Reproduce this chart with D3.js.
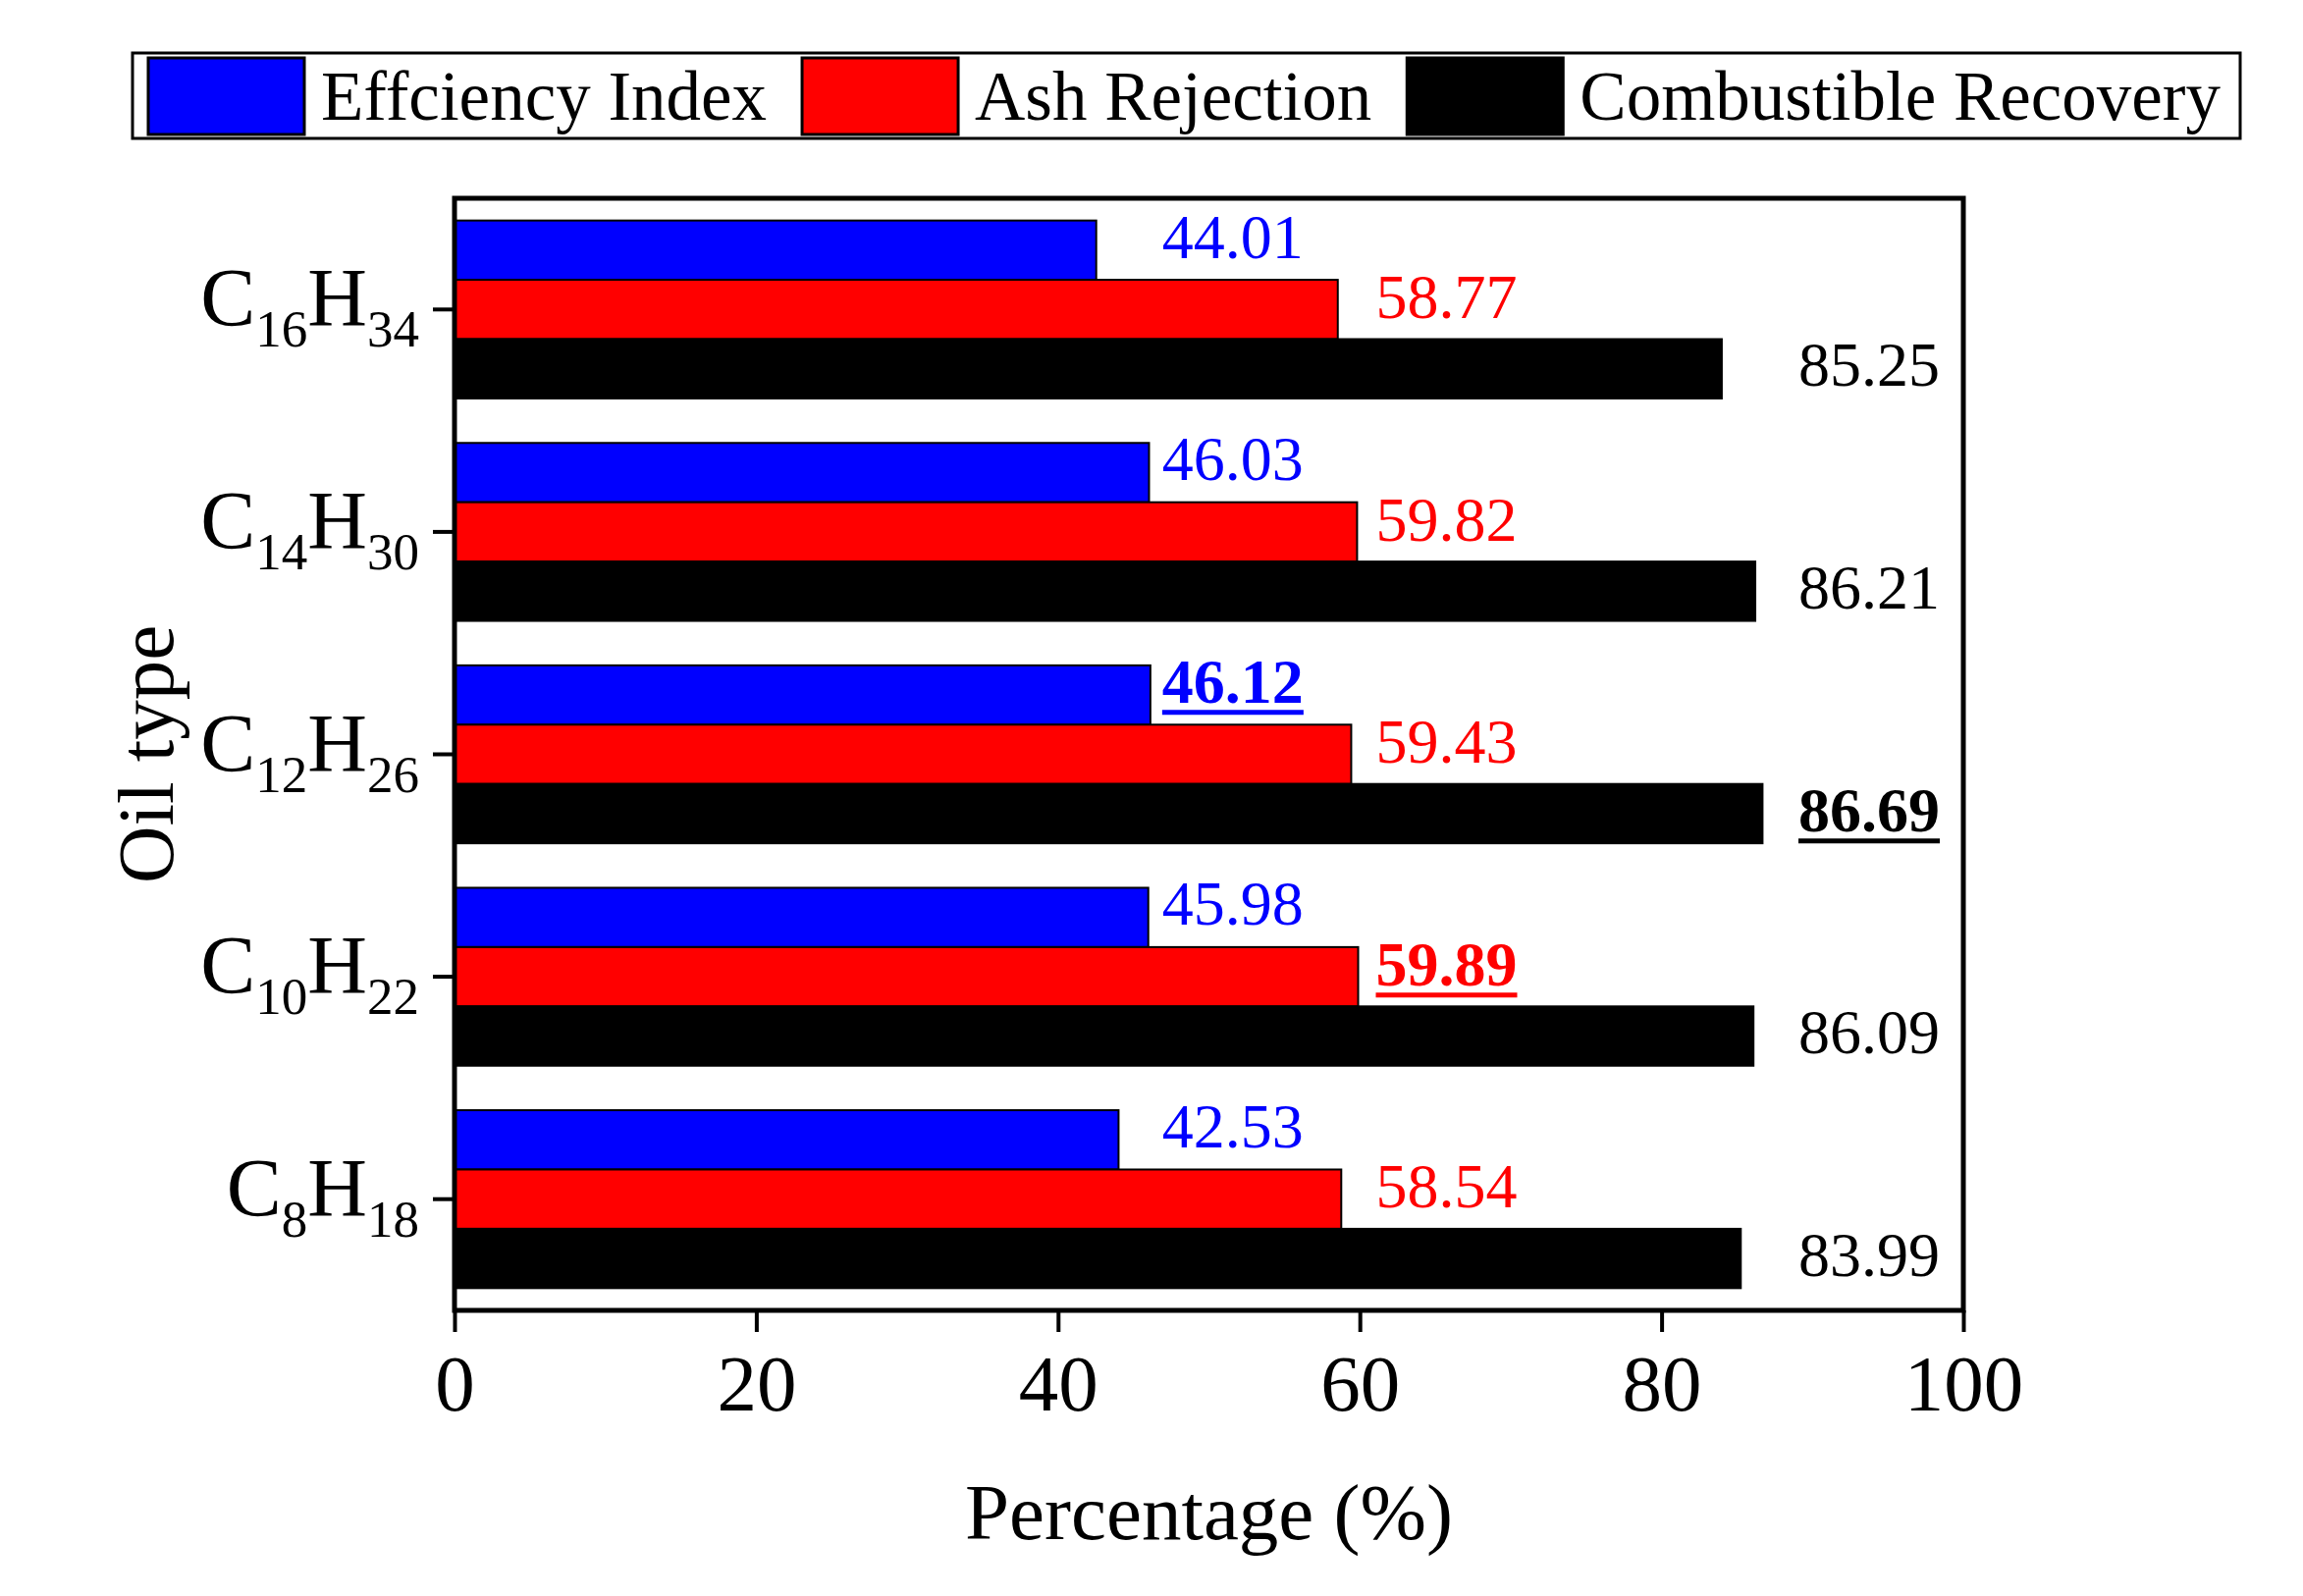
<!DOCTYPE html>
<html>
<head>
<meta charset="utf-8">
<title>Oil type - efficiency bars</title>
<script src="https://d3js.org/d3.v7.min.js"></script>
<style>
  body { margin: 0; background: #fff; }
  text { font-family: "Liberation Serif", "Times New Roman", serif; }
  .tick line { stroke: #000; stroke-width: 4px; }
</style>
</head>
<body>
<svg width="2346" height="1626"></svg>
<script>
// oil types, top to bottom
const carbon = ["16", "14", "12", "10", "8"];
const hydrogen = ["34", "30", "26", "22", "18"];

const seriesNames = ["Effciency Index", "Ash Rejection", "Combustible Recovery"];
const seriesColors = ["#0000ff", "#ff0000", "#000000"];

// bar lengths as drawn
const efficiencyBar = [42.53, 46.03, 46.12, 45.98, 44.01];
const ashBar = [58.54, 59.82, 59.43, 59.89, 58.77];
const recoveryBar = [83.99, 86.21, 86.69, 86.09, 85.25];

// numbers printed next to the bars (C16 / C8 are swapped in the source figure)
const efficiencyLabel = ["44.01", "46.03", "46.12", "45.98", "42.53"];
const ashLabel = ["58.77", "59.82", "59.43", "59.89", "58.54"];
const recoveryLabel = ["85.25", "86.21", "86.69", "86.09", "83.99"];

const xTicks = [0, 20, 40, 60, 80, 100];

const svg = d3.select("svg");
const plotL = 463, plotR = 2000, plotT = 202, plotB = 1335;

const x = d3.scaleLinear().domain([0, 100]).range([plotL, plotR]);
const y = d3.scaleBand().domain(d3.range(carbon.length))
  .range([plotT, plotB]).paddingInner(0.2).paddingOuter(0.1);
const sub = d3.scaleBand().domain(d3.range(seriesNames.length)).range([0, y.bandwidth()]);

const bars = [efficiencyBar, ashBar, recoveryBar];
const labels = [efficiencyLabel, ashLabel, recoveryLabel];

// bars
bars.forEach((vals, s) => {
  svg.append("g").selectAll("rect")
    .data(vals)
    .enter().append("rect")
    .attr("x", x(0))
    .attr("y", (d, i) => y(i) + sub(s))
    .attr("width", d => x(d) - x(0))
    .attr("height", sub.bandwidth())
    .attr("fill", seriesColors[s])
    .attr("stroke", "#000")
    .attr("stroke-width", 2);
});

// value labels
const labelSize = 64;
const labelX = [
  x(d3.max(efficiencyBar)) + 12,
  x(d3.max(ashBar)) + 18,
  x(100) - 24
];
const labelDy = [-14, -13, -4];
labels.forEach((vals, s) => {
  const best = d3.max(vals, v => +v);
  vals.forEach((v, i) => {
    const bold = +v === best;
    const base = y(i) + sub(s) + sub.bandwidth() / 2 + labelDy[s] + labelSize * 0.34;
    const t = svg.append("text")
      .attr("x", labelX[s])
      .attr("y", base)
      .attr("text-anchor", s === 2 ? "end" : "start")
      .attr("font-size", labelSize)
      .attr("font-weight", bold ? "bold" : "normal")
      .attr("fill", seriesColors[s])
      .text(v);
    if (bold) {
      const w = t.node().getComputedTextLength();
      const x0 = s === 2 ? labelX[s] - w : labelX[s];
      svg.append("line")
        .attr("x1", x0).attr("x2", x0 + w)
        .attr("y1", base + 10).attr("y2", base + 10)
        .attr("stroke", seriesColors[s])
        .attr("stroke-width", 5);
    }
  });
});

// frame
svg.append("rect")
  .attr("x", plotL).attr("y", plotT)
  .attr("width", plotR - plotL).attr("height", plotB - plotT)
  .attr("fill", "none").attr("stroke", "#000").attr("stroke-width", 5);

// x axis
const xAxis = svg.append("g")
  .attr("transform", `translate(0,${plotB})`)
  .call(d3.axisBottom(x).tickValues(xTicks).tickSize(22).tickFormat(d3.format("d")));
xAxis.select(".domain").remove();
xAxis.selectAll("text")
  .attr("y", 102).attr("dy", 0)
  .attr("font-size", 81)
  .attr("font-family", "Liberation Serif")
  .attr("fill", "#000");

// y axis
const yAxis = svg.append("g")
  .attr("transform", `translate(${plotL},0)`)
  .call(d3.axisLeft(y).tickSize(22).tickFormat(""));
yAxis.select(".domain").remove();
yAxis.selectAll("text").remove();

const catSize = 84, subSize = 53;
carbon.forEach((c, i) => {
  const t = svg.append("text")
    .attr("x", plotL - 36)
    .attr("y", y(i) + y.bandwidth() / 2 + 17)
    .attr("text-anchor", "end")
    .attr("font-size", catSize)
    .attr("fill", "#000");
  t.append("tspan").text("C");
  t.append("tspan").attr("font-size", subSize).attr("dy", 21).text(c);
  t.append("tspan").attr("dy", -21).text("H");
  t.append("tspan").attr("font-size", subSize).attr("dy", 21).text(hydrogen[i]);
});

// axis titles
svg.append("text")
  .attr("x", (plotL + plotR) / 2).attr("y", 1568)
  .attr("text-anchor", "middle")
  .attr("font-size", 81)
  .text("Percentage (%)");

svg.append("text")
  .attr("transform", `translate(176,${(plotT + plotB) / 2}) rotate(-90)`)
  .attr("text-anchor", "middle")
  .attr("font-size", 81)
  .text("Oil type");

// legend
const legend = svg.append("g");
legend.append("rect")
  .attr("x", 135).attr("y", 54)
  .attr("width", 2147).attr("height", 87)
  .attr("fill", "#fff").attr("stroke", "#000").attr("stroke-width", 3);

let lx = 151;
seriesNames.forEach((name, s) => {
  legend.append("rect")
    .attr("x", lx).attr("y", 59)
    .attr("width", 159).attr("height", 78)
    .attr("fill", seriesColors[s])
    .attr("stroke", "#000").attr("stroke-width", 3);
  const t = legend.append("text")
    .attr("x", lx + 176).attr("y", 122)
    .attr("font-size", 71)
    .text(name);
  lx += 176 + t.node().getComputedTextLength() + 36;
});
</script>
</body>
</html>
